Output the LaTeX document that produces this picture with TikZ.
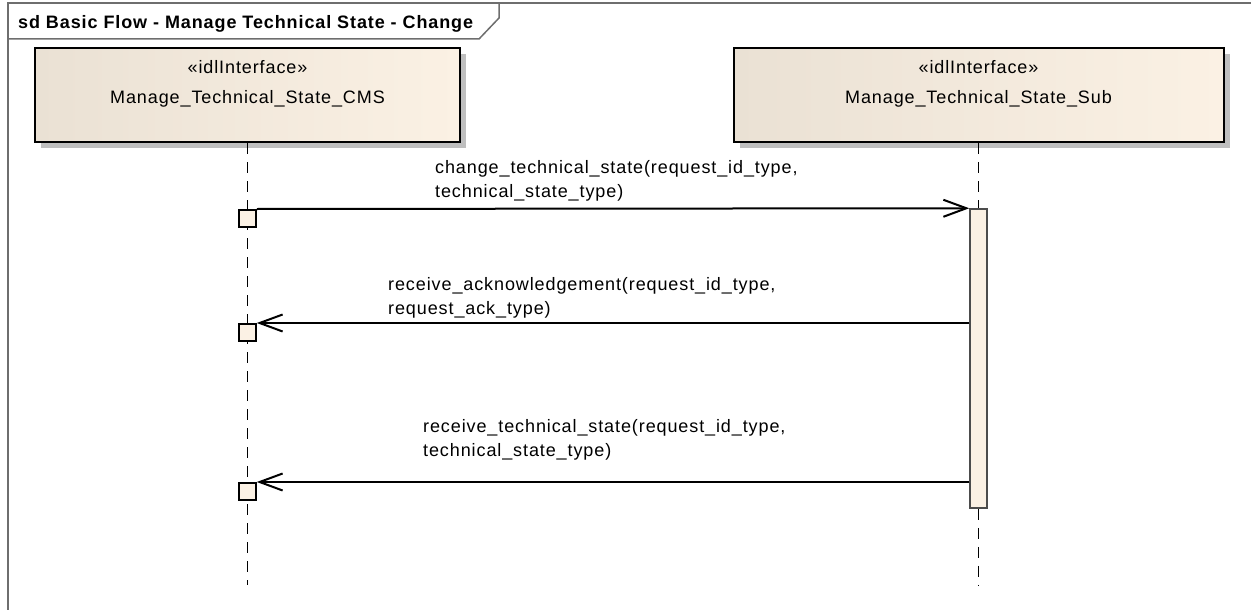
\documentclass[tikz,border=0pt]{standalone}
\usepackage{fontspec}
\setmainfont{Liberation Sans}
\newfontfamily\diagfont[LetterSpace=5]{Liberation Sans}
\usepackage{xcolor}
\usepackage{tikz}
\usetikzlibrary{arrows.meta,positioning,shadows}
\definecolor{boxleft}{RGB}{234,225,212}
\definecolor{boxright}{RGB}{251,241,228}
\definecolor{framegray}{RGB}{110,110,110}

\begin{document}
\begin{tikzpicture}[x=1pt, y=-1pt, font=\diagfont\fontsize{18}{24}\selectfont]
\tikzstyle{lifebox} = [rectangle, draw, line width=2pt, left color=boxleft, right color=boxright, minimum width=425pt, minimum height=94pt, drop shadow={shadow xshift=6pt, shadow yshift=-6pt, fill=black!25, opacity=1}]
\tikzstyle{boxtext} = [align=center, inner sep=0pt]
\tikzstyle{lifeline} = [line width=1.6pt, dash pattern=on 11pt off 8pt]
\tikzstyle{activation} = [rectangle, draw=black!70, line width=1.5pt, fill=boxright, minimum width=17pt, minimum height=299pt, inner sep=0pt]
\tikzstyle{port} = [rectangle, draw, line width=1.5pt, fill=boxright, minimum size=17pt, inner sep=0pt, anchor=north]
\tikzstyle{msg} = [line width=2pt, -{Straight Barb[length=23pt, width=17pt]}]
\tikzstyle{msglabel} = [align=left, inner sep=0pt, anchor=north west]

\useasboundingbox (0,0) rectangle (1251,610);

\draw[framegray, line width=1.5pt] (8,620) -- (8,3) -- (1260,3);
\draw[framegray, line width=1.5pt] (8,39) -- (479,39) -- (499,18) -- (499,3);
\node[anchor=base west, inner sep=0pt, font=\diagfont\bfseries\fontsize{18}{24}\selectfont] (title) at (18,29) {sd Basic Flow - Manage Technical State - Change};

\node[lifebox] (cms) at (247.5,95) {};
\node[lifebox, minimum width=490pt] (sub) at (978.5,95) {};
\node[boxtext, below=13pt of cms.north] (cmsname) {«idlInterface»\\[6pt]Manage\_Technical\_State\_CMS};
\node[boxtext, below=13pt of sub.north] (subname) {«idlInterface»\\[6pt]Manage\_Technical\_State\_Sub};

\coordinate (cmsend) at (247.5,585);
\coordinate (subend) at (978.5,585);
\node[activation] (act) at (978.5,358.5) {};
\draw[lifeline] (cms.south) -- (cmsend);
\draw[lifeline] (sub.south) -- (act.north);
\draw[lifeline] (act.south) -- (subend);
\node[activation] at (act) {};

\node[port] (p1) at (247.5,209) {};
\node[port] (p2) at (247.5,323) {};
\node[port] (p3) at (247.5,482) {};

\draw[msg] (p1.north east) -- (act.north west);
\draw[msg] (act.west |- p2.north) -- (p2.north east);
\draw[msg] (act.west |- p3.north) -- (p3.north east);

\node[msglabel] (l1) at (435,160) {change\_technical\_state(request\_id\_type,\\technical\_state\_type)};
\node[msglabel] (l2) at (388,277) {receive\_acknowledgement(request\_id\_type,\\request\_ack\_type)};
\node[msglabel] (l3) at (423,419) {receive\_technical\_state(request\_id\_type,\\technical\_state\_type)};
\end{tikzpicture}
\end{document}
